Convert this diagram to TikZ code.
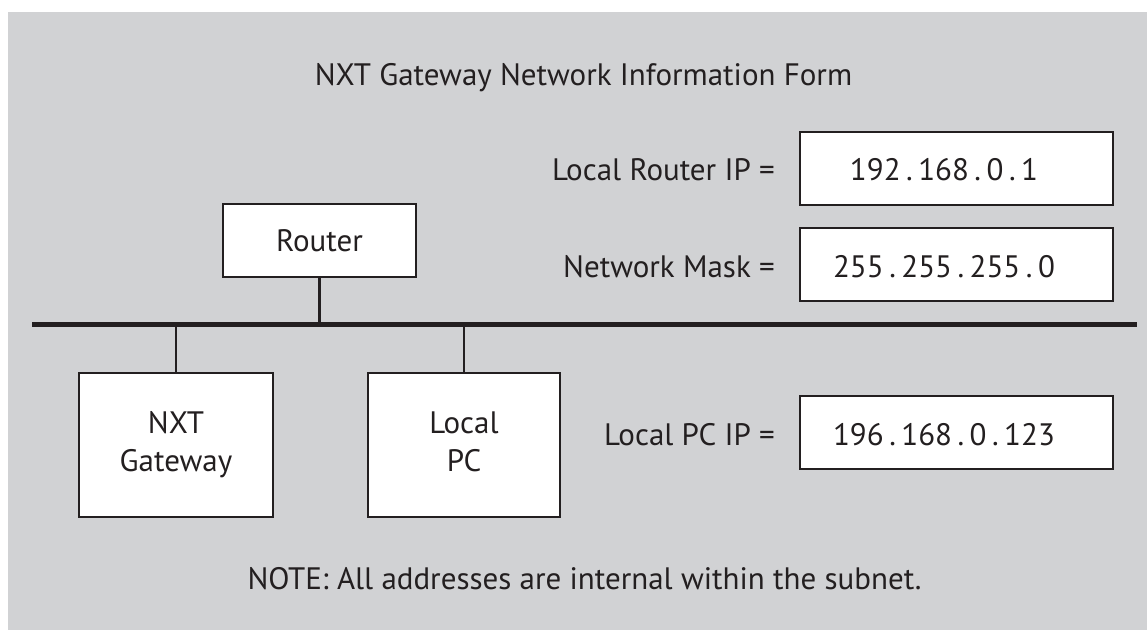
\documentclass[tikz,border=0pt]{standalone}
\usepackage{fontspec}
\setmainfont{PT Sans}
\definecolor{bggray}{HTML}{D1D2D4}
\definecolor{ink}{HTML}{231F20}
\newcommand{\ipd}{\hspace{5.5pt}.\hspace{5.5pt}}
\newcommand{\twolines}[2]{\raisebox{-3pt}{\setlength{\tabcolsep}{0pt}\begin{tabular}{c}#1\\#2\end{tabular}}}
\begin{document}
\begin{tikzpicture}[x=1pt,y=-1pt,
  every node/.style={text=ink,font=\fontsize{31}{38}\selectfont,inner sep=0pt},
  devbox/.style={draw=ink,fill=white,line width=2.4pt,align=center},
  ipbox/.style={draw=ink,fill=white,line width=2.4pt,minimum width=313pt,minimum height=73pt},
  lbl/.style={anchor=base east},
  val/.style={anchor=base},
  link/.style={draw=ink,line width=2.4pt},
  bus/.style={draw=ink,line width=5pt}]
\useasboundingbox (0,0) rectangle (1147,630);
\fill[bggray] (8,12) rectangle (1147,630);

\node[anchor=base] (title) at (583.5,85) {NXT Gateway Network Information Form};

% bus
\coordinate (busL) at (32,324.5);
\coordinate (busR) at (1137,324.5);
\draw[bus] (busL) -- (busR);

% devices
\node[devbox,minimum width=193pt,minimum height=73pt] (router) at (319.5,240.5) {Router};
\node[devbox,minimum width=194pt,minimum height=144pt] (nxt) at (176,445) {\twolines{NXT}{Gateway}};
\node[devbox,minimum width=192pt,minimum height=144pt] (pc) at (464,445) {\twolines{Local}{PC}};

\draw[link] (router.south) -- (router.south |- busL);
\draw[link] (nxt.north) -- (nxt.north |- busL);
\draw[link] (pc.north) -- (pc.north |- busL);

% address boxes
\node[ipbox] (ipbox1) at (956.5,168.5) {};
\node[ipbox] (ipbox2) at (956.5,264.5) {};
\node[ipbox] (ipbox3) at (956.5,432.5) {};

\node[lbl] (lbl1) at (775,180) {Local Router IP =};
\node[lbl] (lbl2) at (775,277) {Network Mask =};
\node[lbl] (lbl3) at (775,445) {Local PC IP =};

\node[val] (val1) at (944,180) {192\ipd 168\ipd 0\ipd 1};
\node[val] (val2) at (944,277) {255\ipd 255\ipd 255\ipd 0};
\node[val] (val3) at (944,445) {196\ipd 168\ipd 0\ipd 123};

\node[anchor=base] (note) at (584.5,589) {NOTE: All addresses are internal within the subnet.};
\end{tikzpicture}
\end{document}
